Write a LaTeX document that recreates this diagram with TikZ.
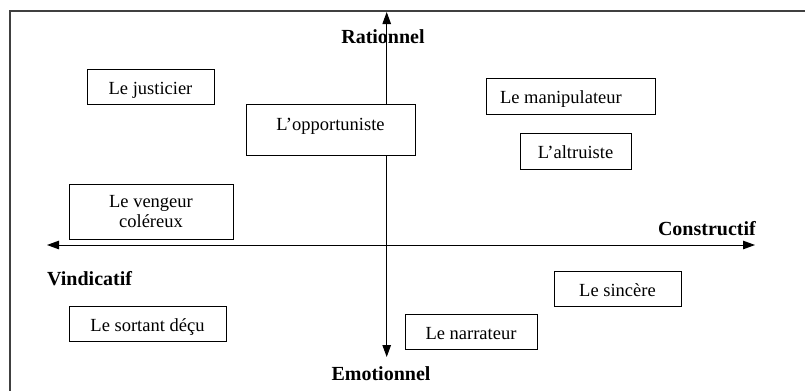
\documentclass[tikz,border=0pt]{standalone}
\usepackage{fontspec}
\setmainfont{Liberation Serif}
\usetikzlibrary{arrows.meta, positioning}

\begin{document}
\begin{tikzpicture}[x=1pt, y=-1pt,
    role/.style={draw, fill=white, line width=1pt, inner sep=0pt, align=center,
        font=\fontsize{18.5}{20}\selectfont, text height=15pt, text depth=0pt,
        minimum height=35pt},
    pole/.style={font=\fontsize{20}{24}\selectfont\bfseries, inner sep=0pt, anchor=base},
    axis/.style={line width=1pt, {Triangle[length=12pt,width=8.5pt]}-{Triangle[length=12pt,width=8.5pt]}}]

        \useasboundingbox (0,0) rectangle (805,391);
        \draw[line width=1.5pt, black!75] (805,11) -- (10,11) -- (10,391);

        % axes
        \coordinate (W) at (47,245);
        \coordinate (E) at (755,245);
        \coordinate (N) at (386.7,12);
        \coordinate (S) at (386.7,357);
        \draw[axis] (W) -- (E);
        \draw[axis] (S) -- (N);

        \node[pole] (RAT) at (383,43) {Rationnel};
        \node[pole] (EMO) at (381,380) {Emotionnel};
        \node[pole, anchor=base east] (CONS) at (756,235) {Constructif};
        \node[pole, anchor=base west] (VIND) at (47,285) {Vindicatif};

        % profils
        \node[role, minimum width=127pt] (JUST) at (150.5,86.5) {Le justicier};
        \node[role, minimum width=169pt, minimum height=51pt, text height=15pt, text depth=13pt] (OPP) at (330.5,129.5) {L'opportuniste};
        \node[role, minimum width=169pt, minimum height=36pt] (MANIP) at (570.5,96) {\makebox[141pt][l]{Le manipulateur}};
        \node[role, minimum width=111pt, minimum height=36pt] (ALTR) at (575.5,151) {L'altruiste};
        \node[role, minimum width=164pt, minimum height=55pt, text height=, text depth=] (VENG) at (151,211.5) {Le vengeur\\coléreux};
        \node[role, minimum width=157pt] (SORT) at (147.5,323.5) {Le sortant déçu};
        \node[role, minimum width=127pt] (SINC) at (617.5,288.5) {Le sincère};
        \node[role, minimum width=132pt] (NARR) at (471,331.5) {Le narrateur};
\end{tikzpicture}
\end{document}
